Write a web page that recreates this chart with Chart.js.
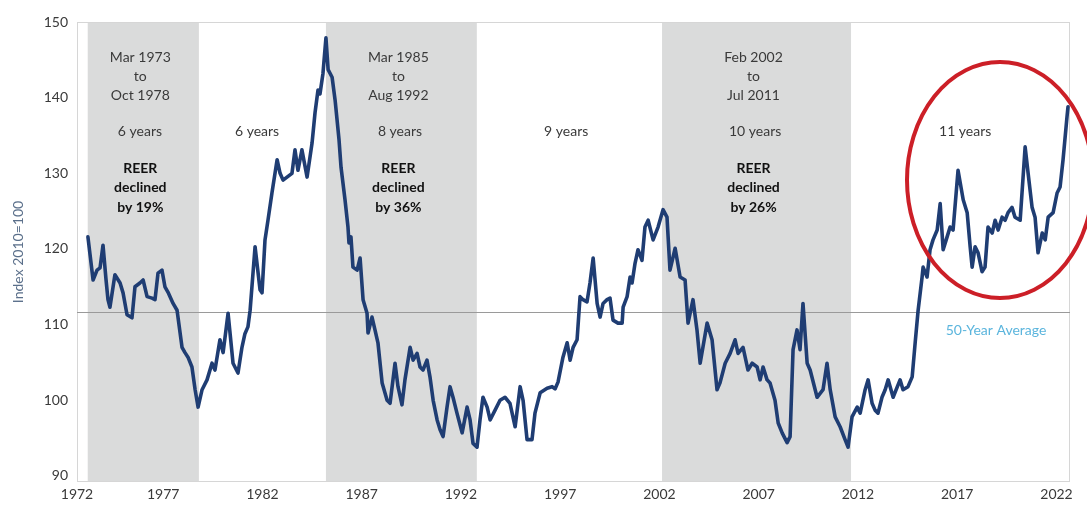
<!DOCTYPE html>
<html><head><meta charset="utf-8">
<script src="https://cdn.jsdelivr.net/npm/chart.js@4"></script>
<style>html,body{margin:0;padding:0;background:#fff;}#wrap{width:1087px;height:506px;}</style>
</head><body><div id="wrap"><canvas id="c" width="1087" height="506"></canvas></div>
<script>
// ---- DATA ----
const years = [1973.21,1973.47,1973.67,1973.82,1973.97,1974.12,1974.22,1974.32,1974.57,1974.83,
1974.98,1975.18,1975.43,1975.58,1975.83,1975.99,1976.19,1976.44,1976.59,1976.74,
1976.94,1977.09,1977.24,1977.50,1977.70,1977.95,1978.10,1978.25,1978.45,1978.61,
1978.76,1978.96,1979.21,1979.46,1979.61,1979.86,1980.02,1980.27,1980.52,1980.77,
1980.97,1981.12,1981.27,1981.38,1981.63,1981.88,1981.98,1982.13,1982.28,1982.48,
1982.74,1982.89,1983.04,1983.24,1983.49,1983.64,1983.79,1983.99,1984.25,1984.50,
1984.65,1984.80,1984.90,1985.05,1985.20,1985.31,1985.51,1985.66,1985.86,1985.96,
1986.16,1986.31,1986.36,1986.46,1986.56,1986.77,1986.92,1987.07,1987.27,1987.32,
1987.52,1987.67,1987.82,1988.03,1988.28,1988.43,1988.68,1988.83,1989.03,1989.18,
1989.44,1989.59,1989.79,1989.94,1990.09,1990.29,1990.44,1990.60,1990.80,1990.95,
1991.10,1991.30,1991.45,1991.60,1991.80,1992.06,1992.31,1992.46,1992.61,1992.81,
1992.96,1993.11,1993.32,1993.47,1993.72,1993.97,1994.22,1994.47,1994.73,1994.98,
1995.13,1995.33,1995.58,1995.73,1995.99,1996.34,1996.59,1996.74,1996.89,1997.14,
1997.35,1997.50,1997.65,1997.85,1998.00,1998.15,1998.35,1998.50,1998.66,1998.86,
1999.01,1999.16,1999.36,1999.51,1999.66,1999.91,2000.12,2000.17,2000.37,2000.52,
2000.62,2000.77,2000.92,2001.12,2001.27,2001.43,2001.68,2001.93,2002.18,2002.38,
2002.53,2002.79,2003.04,2003.29,2003.44,2003.69,2003.89,2004.05,2004.40,2004.65,
2004.90,2005.05,2005.31,2005.56,2005.81,2005.96,2006.21,2006.46,2006.67,2006.92,
2007.07,2007.22,2007.42,2007.57,2007.82,2007.98,2008.18,2008.43,2008.58,2008.73,
2008.93,2009.08,2009.23,2009.44,2009.59,2009.94,2010.24,2010.44,2010.60,2010.85,
2011.10,2011.35,2011.50,2011.70,2011.96,2012.11,2012.36,2012.51,2012.71,2012.86,
2013.01,2013.21,2013.37,2013.52,2013.77,2014.12,2014.27,2014.52,2014.73,2014.88,
2015.03,2015.23,2015.28,2015.48,2015.63,2015.78,2015.99,2016.14,2016.29,2016.49,
2016.64,2016.79,2017.04,2017.30,2017.50,2017.65,2017.75,2017.90,2018.05,2018.25,
2018.40,2018.55,2018.76,2018.91,2019.06,2019.26,2019.41,2019.56,2019.76,2019.91,
2020.17,2020.42,2020.57,2020.77,2020.92,2021.07,2021.28,2021.43,2021.58,2021.83,
2022.03,2022.18,2022.33,2022.53,2022.58];

const reer = [121.6,115.9,117.2,117.5,120.5,116,113.3,112.3,116.6,115.5,
114.2,111.3,110.9,115,115.5,115.9,113.7,113.5,113.3,116.8,
117.2,115,114.3,112.8,111.9,107,106.3,105.7,104.4,101.4,
99.1,101.4,102.7,104.9,104,108,106.3,111.5,104.9,103.6,
107,108.8,109.7,111.9,120.3,114.6,114.2,121.2,123.8,127.4,
131.8,130,129.1,129.5,130,133.1,130.4,133.1,129.5,134,
138,141,140.5,143.2,147.9,143.7,142.7,139.7,134.4,130.8,
126.5,122.9,120.8,121.6,117.6,117.2,118.8,113.3,111.5,108.9,
111,109.3,107.6,102.3,100,99.6,104.9,101.8,99.4,102.7,
107,105.3,106.2,104.4,104,105.3,103.1,100,97.4,96.1,
95.2,99.1,101.8,100.4,98.3,95.7,99.1,97.4,94.3,93.8,
97.4,100.4,99.1,97.4,98.7,100,100.4,99.6,96.5,101.8,
100,94.8,94.8,98.3,101,101.6,101.8,101.5,102.4,105.7,
107.6,105.3,107,108,113.7,113.3,113,115.5,118.8,112.8,
111,112.8,113.3,113.5,110.6,110.2,110.2,112.3,113.7,116.3,
115.5,118.1,119.9,118.5,122.9,123.8,121.2,122.9,125.2,124.2,
117.2,120.1,116.3,115.9,110.2,113.3,109.3,104.9,110.2,108,
101.4,102.3,104.9,106.2,108,106.2,107,104,104.9,104.4,
102.7,104.4,102.7,102.3,100,97,95.7,94.4,95.2,106.7,
109.3,106.7,112.8,104.9,104,100.4,101.4,104.9,101.4,97.8,
96.5,94.8,93.8,97.8,99.1,98.3,101.4,102.7,99.6,98.7,
98.3,100.4,101.4,102.7,100.4,102.7,101.4,101.8,103.1,107.6,
111.9,116.3,117.6,116.3,119.9,121.2,122.5,126,119.9,121.6,
122.9,122.5,130.4,126.5,124.8,120.3,117.6,120.3,119.5,117,
117.6,122.9,122.1,123.8,122.5,124.2,123.8,124.8,125.5,124.2,
123.8,133.5,130,125.5,124.2,119.5,122.1,121.2,124.2,124.8,
127.4,128.2,131.8,137.5,138.8];

const yTickValues = [90,100,110,120,130,140,150];
const xTickValues = [1972.66,1977,1982,1987,1992,1997,2002,2007,2012,2017,2022];
const xTickLabels = ['1972','1977','1982','1987','1992','1997','2002','2007','2012','2017','2022'];
const bandStart = [1973.2, 1985.2, 2002.13];
const bandEnd   = [1978.8, 1992.8, 2011.65];
const bandDates = [['Mar 1973','to','Oct 1978'],['Mar 1985','to','Aug 1992'],['Feb 2002','to','Jul 2011']];
const bandDecline = ['19%','36%','26%'];
const periodLabels = ['6 years','6 years','8 years','9 years','10 years','11 years'];
const averageValue = 111.67;
const averageLabel = '50-Year Average';
const yTitle = 'Index 2010=100';

// ---- DRAWING ----
const FONT = 'Lato, "Open Sans", sans-serif';
const periodX = [1975.83, 1981.73, 1988.93, 1997.3, 2006.82, 2017.4];

const decor = {
  id: 'decor',
  beforeDatasetsDraw(chart) {
    const {ctx, chartArea: a, scales: {x, y}} = chart;
    ctx.save();
    ctx.fillStyle = '#dadbdb';
    bandStart.forEach((s, i) => {
      const x0 = x.getPixelForValue(s), x1 = x.getPixelForValue(bandEnd[i]);
      ctx.fillRect(x0, a.top, x1 - x0, a.bottom - a.top);
    });
    ctx.strokeStyle = '#d6d6d6';
    ctx.lineWidth = 1;
    ctx.strokeRect(a.left + 0.5, a.top + 0.5, a.right - a.left - 1, a.bottom - a.top - 1);
    const ya = Math.round(y.getPixelForValue(averageValue)) + 0.5;
    ctx.strokeStyle = '#9a9a9a';
    ctx.beginPath(); ctx.moveTo(a.left, ya); ctx.lineTo(a.right, ya); ctx.stroke();
    ctx.restore();
  },
  afterDatasetsDraw(chart) {
    const {ctx, scales: {x, y}} = chart;
    ctx.save();
    ctx.textAlign = 'center';
    ctx.textBaseline = 'middle';
    const rowY = [57, 76, 95];
    bandStart.forEach((s, i) => {
      const cx = (x.getPixelForValue(s) + x.getPixelForValue(bandEnd[i])) / 2 - 3;
      ctx.fillStyle = '#3a3a3a';
      ctx.font = '14px ' + FONT;
      bandDates[i].forEach((t, j) => ctx.fillText(t, cx, rowY[j]));
      ctx.fillStyle = '#111';
      ctx.font = 'bold 14px ' + FONT;
      ctx.fillText('REER', cx, 168);
      ctx.fillText('declined', cx, 187);
      ctx.fillText('by ' + bandDecline[i], cx, 207);
    });
    ctx.fillStyle = '#3a3a3a';
    ctx.font = '14px ' + FONT;
    periodLabels.forEach((t, i) => ctx.fillText(t, x.getPixelForValue(periodX[i]), 131));
    ctx.fillStyle = '#5bb5dd';
    ctx.fillText(averageLabel, 996, y.getPixelForValue(averageValue) + 18);
    ctx.strokeStyle = '#cc1f27';
    ctx.lineWidth = 4;
    ctx.beginPath();
    ctx.ellipse(1000, 180, 93, 118, 0, 0, Math.PI * 2);
    ctx.stroke();
    ctx.restore();
  }
};

new Chart(document.getElementById('c'), {
  type: 'line',
  data: {
    datasets: [{
      data: years.map((yr, i) => ({x: yr, y: reer[i]})),
      borderColor: '#1f3d73',
      borderWidth: 3.6,
      pointRadius: 0,
      tension: 0,
      borderJoinStyle: 'round',
      borderCapStyle: 'round'
    }]
  },
  options: {
    responsive: false,
    devicePixelRatio: 1,
    animation: false,
    layout: {padding: {left: 0, right: 17, top: 22, bottom: 0}},
    plugins: {legend: {display: false}, tooltip: {enabled: false}},
    scales: {
      x: {
        type: 'linear', min: 1972.66, max: 2022.68,
        afterBuildTicks: ax => { ax.ticks = xTickValues.map(v => ({value: v})); },
        afterFit: ax => { ax.height = 24; },
        ticks: {
          autoSkip: false, maxRotation: 0, padding: 4,
          color: '#3a3a3a', font: {family: FONT, size: 14},
          callback: (v, i) => xTickLabels[i]
        },
        grid: {display: false, drawTicks: false},
        border: {display: false}
      },
      y: {
        min: 89.2, max: 150,
        afterBuildTicks: ax => { ax.ticks = yTickValues.map(v => ({value: v})); },
        afterFit: ax => { ax.width = 77; },
        ticks: {padding: 9, color: '#3a3a3a', font: {family: FONT, size: 14}},
        grid: {display: false, drawTicks: false},
        border: {display: false},
        title: {display: true, text: yTitle, color: '#5a6f8a', font: {family: FONT, size: 14}, padding: {top: 10, bottom: 0}}
      }
    }
  },
  plugins: [decor]
});
</script></body></html>
